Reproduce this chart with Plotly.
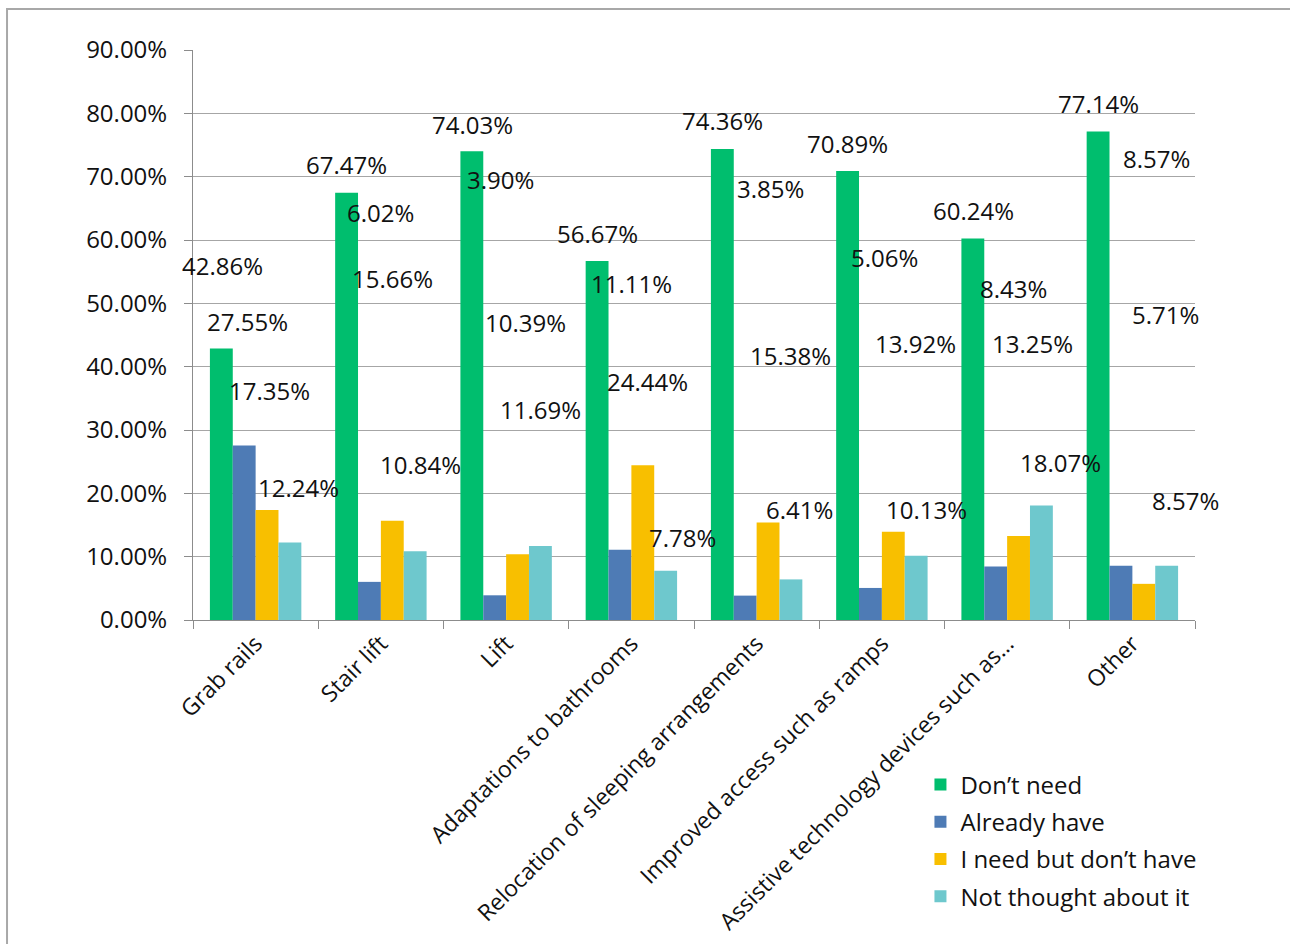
import plotly.graph_objects as go

categories = ["Grab rails", "Stair lift", "Lift", "Adaptations to bathrooms",
              "Relocation of sleeping arrangements", "Improved access such as ramps",
              "Assistive technology devices such as…", "Other"]

dont_need = [42.86, 67.47, 74.03, 56.67, 74.36, 70.89, 60.24, 77.14]
already_have = [27.55, 6.02, 3.90, 11.11, 3.85, 5.06, 8.43, 8.57]
need_dont_have = [17.35, 15.66, 10.39, 24.44, 15.38, 13.92, 13.25, 5.71]
not_thought = [12.24, 10.84, 11.69, 7.78, 6.41, 10.13, 18.07, 8.57]

series_names = ["Don’t need", "Already have", "I need but don’t have", "Not thought about it"]
series_values = [dont_need, already_have, need_dont_have, not_thought]
series_colors = ["#00BE6E", "#4E7BB5", "#F8BF00", "#6EC8CD"]

# Where each data label sits: horizontal offset (px) from the category centre,
# and height in axis units, per category and per series.
label_dx = [
    [-33.5, -8.5, 13.5, 42.5],
    [-34.7, -0.7, 11.3, 39.3],
    [-33.9, -5.9, 19.1, 34.1],
    [-34.1, -0.1, 15.9, 50.9],
    [-34.3, 13.7, 33.7, 42.7],
    [-34.5, 2.5, 33.5, 44.5],
    [-33.7, 6.3, 25.3, 53.3],
    [-33.9, 24.1, 33.1, 53.1],
]
label_y = [
    [56.05, 47.2, 36.3, 21.0],
    [72.0, 64.3, 54.0, 24.5],
    [78.3, 69.6, 46.9, 33.3],
    [61.1, 53.2, 37.7, 13.1],
    [78.8, 68.2, 41.7, 17.4],
    [75.2, 57.3, 43.7, 17.4],
    [64.6, 52.4, 43.7, 24.8],
    [81.5, 72.9, 48.3, 18.9],
]

FONT = "Open Sans"
FS = 24
TXT = "#111111"

fig = go.Figure()
for name, vals, col in zip(series_names, series_values, series_colors):
    fig.add_trace(go.Bar(x=categories, y=vals, name=name, marker_color=col,
                         marker_line_width=0, legendgroup=name))

annotations = []
for ci, cat in enumerate(categories):
    for si, vals in enumerate(series_values):
        annotations.append(dict(
            x=cat, y=label_y[ci][si], xref="x", yref="y",
            xshift=label_dx[ci][si], text=f"{vals[ci]:.2f}%",
            showarrow=False, font=dict(family=FONT, size=FS, color=TXT),
            xanchor="center", yanchor="middle"))

fig.update_layout(
    width=1290, height=944,
    margin=dict(l=193, r=95, t=50, b=324, autoexpand=False),
    paper_bgcolor="white", plot_bgcolor="white",
    barmode="group", bargap=0.27, bargroupgap=0,
    font=dict(family=FONT, size=FS, color=TXT),
    showlegend=True,
    legend=dict(x=0.726, y=-0.25, xanchor="left", yanchor="top",
                font=dict(family=FONT, size=FS, color=TXT),
                bgcolor="rgba(0,0,0,0)", tracegroupgap=3, itemwidth=30),
    annotations=annotations,
    shapes=[dict(type="rect", xref="paper", yref="paper",
                 x0=-0.1856, x1=1.3, y0=-0.8, y1=1.0719,
                 line=dict(color="#A8A8A8", width=2), fillcolor="rgba(0,0,0,0)",
                 layer="below")],
)

fig.update_yaxes(range=[0, 90], dtick=10, tickformat=".2f", ticksuffix="%",
                 showgrid=True, gridcolor="#A6A6A6", gridwidth=1,
                 showline=True, linecolor="#8C8C8C", linewidth=1,
                 ticks="outside", ticklen=8, tickcolor="#8C8C8C",
                 ticklabelstandoff=12, zeroline=False,
                 tickfont=dict(family=FONT, size=FS, color=TXT))
fig.update_xaxes(range=[-0.5, 7.5], showline=True, linecolor="#8C8C8C", linewidth=1,
                 ticks="outside", ticklen=8, tickcolor="#8C8C8C",
                 tickson="boundaries", tickangle=-45,
                 tickfont=dict(family=FONT, size=23, color=TXT))

fig.write_html("out.html")
